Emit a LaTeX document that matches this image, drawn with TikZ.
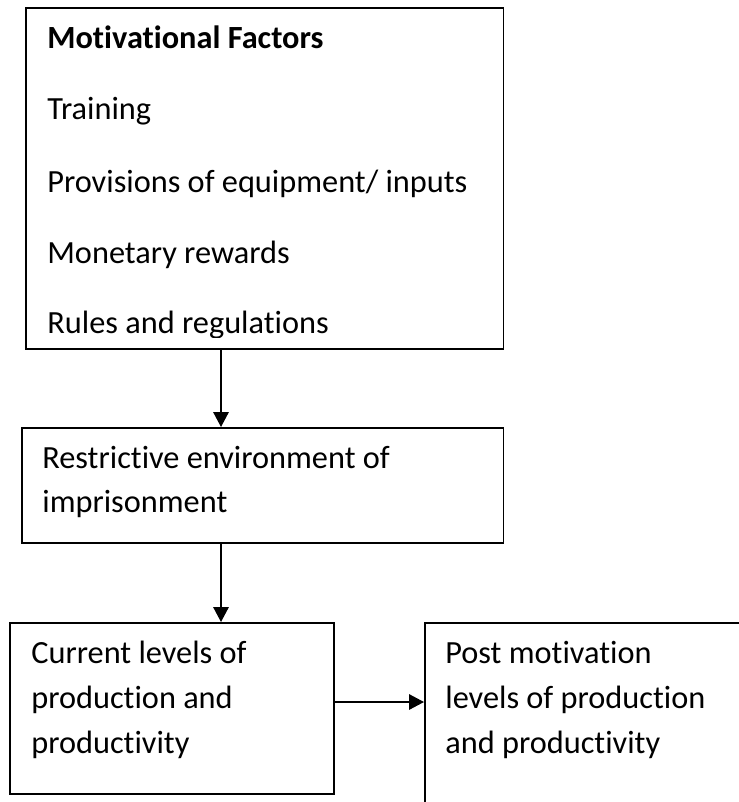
\documentclass[tikz,border=0pt]{standalone}
\usepackage{fontspec}
\setmainfont{Carlito}[Ligatures=NoCommon]
\usetikzlibrary{positioning,arrows.meta}
\tikzset{
  box/.style={rectangle,draw,line width=0.9pt,anchor=north west,inner sep=0pt},
  txt/.style={anchor=base west,inner sep=0pt,font=\fontsize{18.4}{22}\selectfont},
  arrow/.style={-{Triangle[length=0.3cm,width=0.31cm]},line width=0.9pt}
}
\begin{document}
\begin{tikzpicture}[x=0.02cm,y=-0.02cm]

  \clip (0,0) rectangle (739,802);

  % boxes
  \node[box,minimum width=9.56cm,minimum height=6.82cm] (factors) at (25,7) {};
  \node[box,minimum width=9.64cm,minimum height=2.30cm] (environment) at (21,427) {};
  \node[box,minimum width=6.48cm,minimum height=3.42cm] (current) at (9,622) {};
  \node[box,minimum width=7.00cm,minimum height=4.50cm] (post) at (424,622) {};

  % text of the first box, cut at the bottom
  \begin{scope}
    \clip (25,7) rectangle (503,337);
    \node[txt] (t1) at (47,48) {\textbf{Motivational Factors}};
    \node[txt] (t2) at (47,119) {Training};
    \node[txt] (t3) at (47,192) {Provisions of equipment/ inputs};
    \node[txt] (t4) at (47,263) {Monetary rewards};
    \node[txt] (t5) at (47,333) {Rules and regulations};
  \end{scope}

  \node[txt] (e1) at (42,468) {Restrictive environment of};
  \node[txt] (e2) at (42,512) {imprisonment};

  \node[txt] (c1) at (31,663) {Current levels of};
  \node[txt] (c2) at (31,708) {production and};
  \node[txt] (c3) at (31,753) {productivity};

  \node[txt] (p1) at (445,663) {Post motivation};
  \node[txt] (p2) at (445,708) {levels of production};
  \node[txt] (p3) at (445,753) {and productivity};

  % arrows
  \draw[arrow] (factors.south west -| 221,0) -- (environment.north west -| 221,0);
  \draw[arrow] (environment.south west -| 221,0) -- (current.north west -| 221,0);
  \draw[arrow] (current.east |- 0,702) -- (post.west |- 0,702);

\end{tikzpicture}
\end{document}
